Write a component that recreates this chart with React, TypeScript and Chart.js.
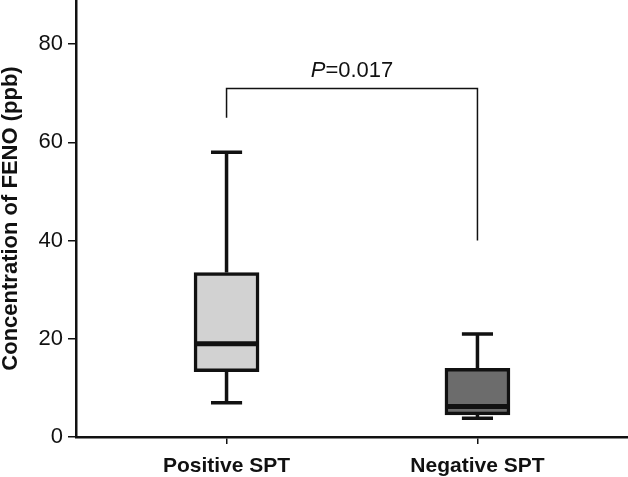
import React, { useEffect, useRef } from 'react';
import { Chart, registerables } from 'chart.js';

Chart.register(...registerables);

const categories = ['Positive SPT', 'Negative SPT'];
const positions = [1, 2];
const whiskerLow = [7, 3.8];
const q1 = [13.3, 4.5];
const median = [19, 6.2];
const q3 = [33.5, 14.0];
const whiskerHigh = [58, 21];
const boxColors = ['#d2d2d2', '#6c6c6c'];
const yTicks = [0, 20, 40, 60, 80];
const yMin = 0;
const yMax = 89;
const xMin = 0.4;
const xMax = 2.6;
const bracketLeftBottom = 65;
const bracketTop = 71;
const bracketRightBottom = 40;
const pItalic = 'P';
const pRest = '=0.017';
const yTitle = 'Concentration of FENO (ppb)';

const INK = '#111111';
const FONT = "'Liberation Sans', Arial, sans-serif";

const boxExtras = {
  id: 'boxExtras',
  beforeDatasetsDraw(chart: any) {
    const { ctx, scales } = chart;
    const x = scales.x;
    const y = scales.y;
    ctx.save();
    ctx.strokeStyle = INK;
    ctx.lineWidth = 3.5;
    positions.forEach((p, i) => {
      const cx = x.getPixelForValue(p);
      const capL = x.getPixelForValue(p - 0.062);
      const capR = x.getPixelForValue(p + 0.062);
      ctx.beginPath();
      ctx.moveTo(cx, y.getPixelForValue(whiskerHigh[i]));
      ctx.lineTo(cx, y.getPixelForValue(q3[i]));
      ctx.moveTo(cx, y.getPixelForValue(q1[i]));
      ctx.lineTo(cx, y.getPixelForValue(whiskerLow[i]));
      ctx.moveTo(capL, y.getPixelForValue(whiskerHigh[i]));
      ctx.lineTo(capR, y.getPixelForValue(whiskerHigh[i]));
      ctx.moveTo(capL, y.getPixelForValue(whiskerLow[i]));
      ctx.lineTo(capR, y.getPixelForValue(whiskerLow[i]));
      ctx.stroke();
    });
    ctx.restore();
  },
  afterDatasetsDraw(chart: any) {
    const { ctx, scales } = chart;
    const x = scales.x;
    const y = scales.y;
    const meta = chart.getDatasetMeta(0);
    ctx.save();
    ctx.strokeStyle = INK;
    ctx.lineWidth = 5;
    meta.data.forEach((bar: any, i: number) => {
      const props = bar.getProps(['x', 'width'], true);
      const my = y.getPixelForValue(median[i]);
      ctx.beginPath();
      ctx.moveTo(props.x - props.width / 2 + 1, my);
      ctx.lineTo(props.x + props.width / 2 - 1, my);
      ctx.stroke();
    });
    // significance bracket
    const lx = x.getPixelForValue(positions[0]);
    const rx = x.getPixelForValue(positions[1]);
    const ty = y.getPixelForValue(bracketTop);
    ctx.lineWidth = 1.5;
    ctx.beginPath();
    ctx.moveTo(lx, y.getPixelForValue(bracketLeftBottom));
    ctx.lineTo(lx, ty);
    ctx.lineTo(rx, ty);
    ctx.lineTo(rx, y.getPixelForValue(bracketRightBottom));
    ctx.stroke();
    // p-value text
    const fItal = `italic 22px ${FONT}`;
    const fNorm = `22px ${FONT}`;
    ctx.font = fItal;
    const w1 = ctx.measureText(pItalic).width;
    ctx.font = fNorm;
    const w2 = ctx.measureText(pRest).width;
    const start = (lx + rx) / 2 - (w1 + w2) / 2;
    ctx.fillStyle = INK;
    ctx.textBaseline = 'alphabetic';
    ctx.textAlign = 'left';
    ctx.font = fItal;
    ctx.fillText(pItalic, start, ty - 11);
    ctx.font = fNorm;
    ctx.fillText(pRest, start + w1, ty - 11);
    ctx.restore();
  },
};

export default function App() {
  const ref = useRef<HTMLCanvasElement | null>(null);
  useEffect(() => {
    if (!ref.current) return;
    const chart = new Chart(ref.current, {
      type: 'bar',
      data: {
        datasets: [
          {
            data: positions.map((p, i) => ({ x: p, y: [q1[i], q3[i]] })) as any,
            backgroundColor: boxColors,
            borderColor: INK,
            borderWidth: 3.5,
            borderSkipped: false,
            barThickness: 65,
          },
        ],
      },
      options: {
        responsive: false,
        animation: false,
        layout: { padding: 0 },
        plugins: {
          legend: { display: false },
          tooltip: { enabled: false },
        },
        scales: {
          x: {
            type: 'linear',
            offset: false,
            min: xMin,
            max: xMax,
            afterBuildTicks: (s: any) => {
              s.ticks = positions.map((v) => ({ value: v }));
            },
            afterFit: (s: any) => {
              s.height = 40;
              s.paddingLeft = 0;
              s.paddingRight = 0;
            },
            ticks: {
              callback: (v: any) => categories[positions.indexOf(Number(v))] ?? '',
              font: { family: FONT, size: 21, weight: 'bold' },
              color: INK,
              padding: 10,
              maxRotation: 0,
              autoSkip: false,
            },
            grid: {
              offset: false,
              drawOnChartArea: false,
              tickLength: 7,
              color: INK,
              lineWidth: 1.5,
            },
            border: { display: true, color: INK, width: 2.5 },
          },
          y: {
            type: 'linear',
            min: yMin,
            max: yMax,
            afterBuildTicks: (s: any) => {
              s.ticks = yTicks.map((v) => ({ value: v }));
            },
            afterFit: (s: any) => {
              s.width = 76;
              s.paddingTop = 0;
              s.paddingBottom = 0;
            },
            ticks: {
              font: { family: FONT, size: 22 },
              color: INK,
              padding: 5,
            },
            grid: {
              drawOnChartArea: false,
              tickLength: 8,
              color: INK,
              lineWidth: 1.5,
            },
            border: { display: true, color: INK, width: 2.5 },
            title: {
              display: true,
              text: yTitle,
              font: { family: FONT, size: 22, weight: 'bold', lineHeight: 1.0 },
              color: INK,
              padding: { top: 0, bottom: 0 },
            },
          },
        },
      } as any,
      plugins: [boxExtras],
    });
    return () => chart.destroy();
  }, []);
  return (
    <div style={{ position: 'fixed', left: 0, top: 0, width: 628, height: 477, background: '#fff' }}>
      <canvas ref={ref} width={628} height={477} />
    </div>
  );
}
